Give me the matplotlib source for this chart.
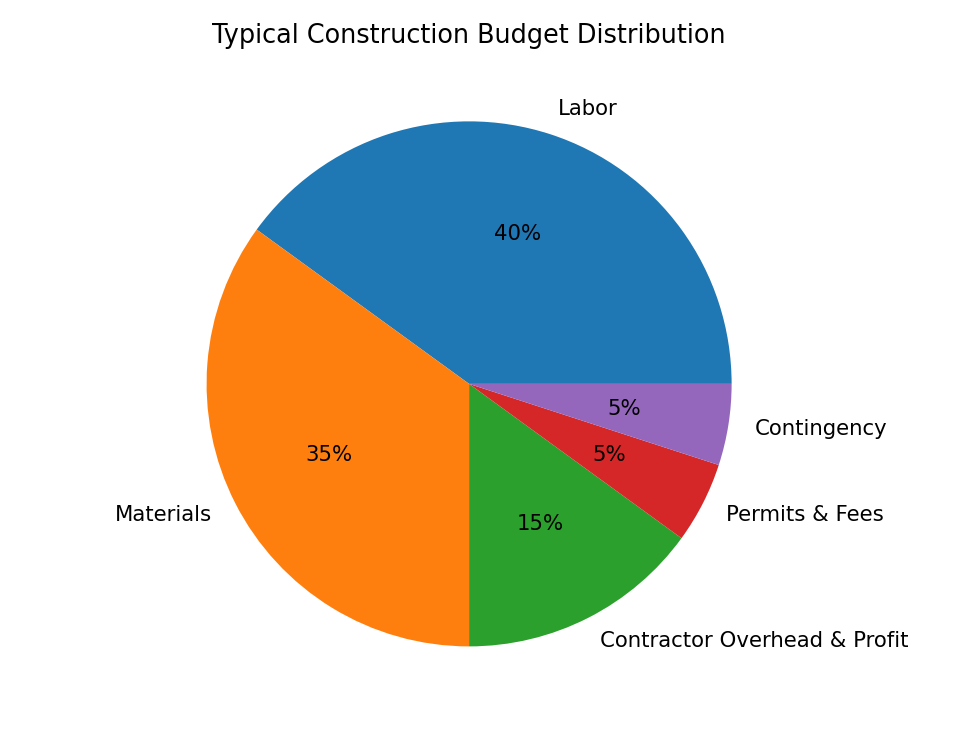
import matplotlib
matplotlib.use("Agg")
import matplotlib.pyplot as plt

categories = ["Labor", "Materials", "Contractor Overhead & Profit", "Permits & Fees", "Contingency"]
values = [40, 35, 15, 5, 5]
title = "Typical Construction Budget Distribution"

fig, ax = plt.subplots(figsize=(6.4, 4.8), dpi=153.125)
ax.pie(values, labels=categories, autopct="%1.0f%%")
ax.set_title(title)
plt.tight_layout()
fig.savefig("out.png")
